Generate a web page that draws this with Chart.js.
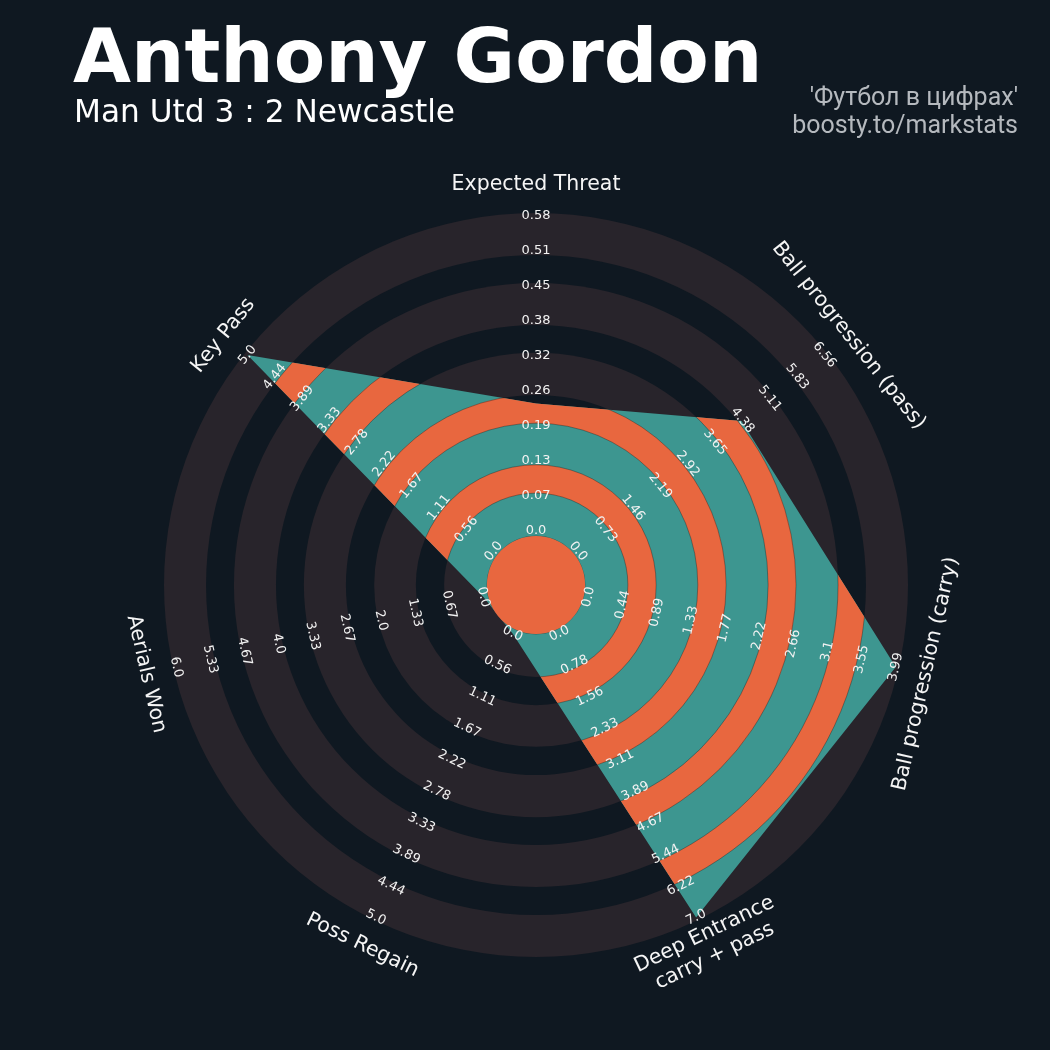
<!DOCTYPE html>
<html>
<head>
<meta charset="utf-8">
<script src="https://cdn.jsdelivr.net/npm/chart.js@4.4.1/dist/chart.umd.min.js"></script>
<style>
  html, body { margin: 0; background: #0f1821; }
  canvas { display: block; }
</style>
</head>
<body>
<canvas id="radar" width="1050" height="1050"></canvas>
<script>
// radar parameters, clockwise from the top
const params = ['Expected Threat', 'Ball progression (pass)', 'Ball progression (carry)',
  ['Deep Entrance', 'carry + pass'], 'Poss Regain', 'Aerials Won', 'Key Pass'];
const values = [0.235, 4.35, 3.99, 7.0, 0, 0, 5.0];

// range labels for each axis (min .. max)
const xtTicks      = ['0.0', '0.07', '0.13', '0.19', '0.26', '0.32', '0.38', '0.45', '0.51', '0.58'];
const passTicks    = ['0.0', '0.73', '1.46', '2.19', '2.92', '3.65', '4.38', '5.11', '5.83', '6.56'];
const carryTicks   = ['0.0', '0.44', '0.89', '1.33', '1.77', '2.22', '2.66', '3.1', '3.55', '3.99'];
const deepTicks    = ['0.0', '0.78', '1.56', '2.33', '3.11', '3.89', '4.67', '5.44', '6.22', '7.0'];
const regainTicks  = ['0.0', '0.56', '1.11', '1.67', '2.22', '2.78', '3.33', '3.89', '4.44', '5.0'];
const aerialTicks  = ['0.0', '0.67', '1.33', '2.0', '2.67', '3.33', '4.0', '4.67', '5.33', '6.0'];
const keyPassTicks = ['0.0', '0.56', '1.11', '1.67', '2.22', '2.78', '3.33', '3.89', '4.44', '5.0'];
const tickSets = [xtTicks, passTicks, carryTicks, deepTicks, regainTicks, aerialTicks, keyPassTicks];

const BG = '#0f1821', RING = '#28242b', ORANGE = '#e8673f', TEAL = '#3d9690';
// the r scale runs 0..1 (outer ring); values sit between INNER and OUTER
const INNER = 0.145, OUTER = 0.992;
const CENTER = 0.132;
const RINGS = [1.0, 0.887, 0.812, 0.699, 0.624, 0.511, 0.435, 0.323, 0.247];

const maxOf = i => parseFloat(tickSets[i][tickSets[i].length - 1]);
const norm = (v, i) => INNER + (OUTER - INNER) * v / maxOf(i);
const stepPos = k => INNER + (OUTER - INNER) * k / 9;

function textRot(scale, i) {
  const a = scale.getIndexAngle(i) * 180 / Math.PI;
  const r = (a > 90 && a < 270) ? a - 180 : a;
  return r * Math.PI / 180;
}

const radarDecor = {
  id: 'radarDecor',
  beforeDraw(chart) {
    const ctx = chart.ctx;
    ctx.save();
    ctx.fillStyle = BG;
    ctx.fillRect(0, 0, chart.width, chart.height);
    ctx.restore();
  },
  beforeDatasetsDraw(chart) {
    const s = chart.scales.r, ctx = chart.ctx;
    ctx.save();
    RINGS.forEach((f, i) => {
      ctx.beginPath();
      ctx.arc(s.xCenter, s.yCenter, s.getDistanceFromCenterForValue(f), 0, Math.PI * 2);
      ctx.fillStyle = i % 2 === 0 ? RING : BG;
      ctx.fill();
    });
    ctx.restore();
  },
  afterDatasetsDraw(chart) {
    const s = chart.scales.r, ctx = chart.ctx;
    const cx = s.xCenter, cy = s.yCenter;
    const d = f => s.getDistanceFromCenterForValue(f);
    const pts = chart.getDatasetMeta(0).data;
    ctx.save();
    ctx.beginPath();
    pts.forEach((p, i) => i ? ctx.lineTo(p.x, p.y) : ctx.moveTo(p.x, p.y));
    ctx.closePath();
    ctx.clip();
    ctx.fillStyle = ORANGE;
    for (let i = 1; i + 1 < RINGS.length; i += 2) {
      ctx.beginPath();
      ctx.arc(cx, cy, d(RINGS[i]), 0, Math.PI * 2);
      ctx.arc(cx, cy, d(RINGS[i + 1]), 0, Math.PI * 2, true);
      ctx.fill();
    }
    ctx.strokeStyle = 'rgba(25,25,25,0.5)';
    ctx.lineWidth = 0.7;
    RINGS.slice(1).concat([CENTER]).forEach(f => {
      ctx.beginPath();
      ctx.arc(cx, cy, d(f), 0, Math.PI * 2);
      ctx.stroke();
    });
    ctx.restore();

    ctx.save();
    ctx.beginPath();
    ctx.arc(cx, cy, d(CENTER), 0, Math.PI * 2);
    ctx.fillStyle = ORANGE;
    ctx.fill();
    ctx.restore();
  },
  afterDraw(chart) {
    const s = chart.scales.r, ctx = chart.ctx;
    ctx.save();
    ctx.textAlign = 'center';
    ctx.textBaseline = 'middle';

    // range labels
    ctx.fillStyle = '#f2f2f2';
    ctx.font = '13px "DejaVu Sans"';
    tickSets.forEach((ticks, i) => {
      const rot = textRot(s, i);
      ticks.forEach((t, k) => {
        const p = s.getPointPositionForValue(i, stepPos(k));
        ctx.save();
        ctx.translate(p.x, p.y);
        ctx.rotate(rot);
        ctx.fillText(t, 0, 0);
        ctx.restore();
      });
    });

    // parameter names
    ctx.fillStyle = '#f5f5f5';
    ctx.font = '20.5px "DejaVu Sans"';
    params.forEach((name, i) => {
      const p = s.getPointPositionForValue(i, 1.075);
      const lines = Array.isArray(name) ? name : [name];
      ctx.save();
      ctx.translate(p.x, p.y);
      ctx.rotate(textRot(s, i));
      lines.forEach((ln, j) => ctx.fillText(ln, 0, (j - (lines.length - 1) / 2) * 24));
      ctx.restore();
    });

    // titles
    ctx.textAlign = 'left';
    ctx.textBaseline = 'alphabetic';
    ctx.fillStyle = '#ffffff';
    ctx.font = 'bold 75px "DejaVu Sans"';
    ctx.fillText('Anthony Gordon', 73, 82);
    ctx.font = '31.2px "DejaVu Sans"';
    ctx.fillText('Man Utd 3 : 2 Newcastle', 74, 122);

    ctx.textAlign = 'right';
    ctx.fillStyle = '#b5b9be';
    ctx.font = '25px Roboto';
    ctx.fillText("'Футбол в цифрах'", 1018, 104.5);
    ctx.fillText('boosty.to/markstats', 1018, 132.5);
    ctx.restore();
  }
};

new Chart(document.getElementById('radar'), {
  type: 'radar',
  data: {
    labels: params,
    datasets: [{
      data: values.map((v, i) => norm(v, i)),
      backgroundColor: TEAL,
      borderWidth: 0,
      pointRadius: 0,
      fill: 'start',
      tension: 0
    }]
  },
  options: {
    responsive: false,
    animation: false,
    layout: { padding: { left: 164, right: 142, top: 213, bottom: 93 }, autoPadding: false },
    plugins: { legend: { display: false }, tooltip: { enabled: false } },
    scales: {
      r: {
        min: 0, max: 1,
        ticks: { display: false },
        grid: { display: false },
        angleLines: { display: false },
        pointLabels: { display: false }
      }
    }
  },
  plugins: [radarDecor]
});
</script>
</body>
</html>
